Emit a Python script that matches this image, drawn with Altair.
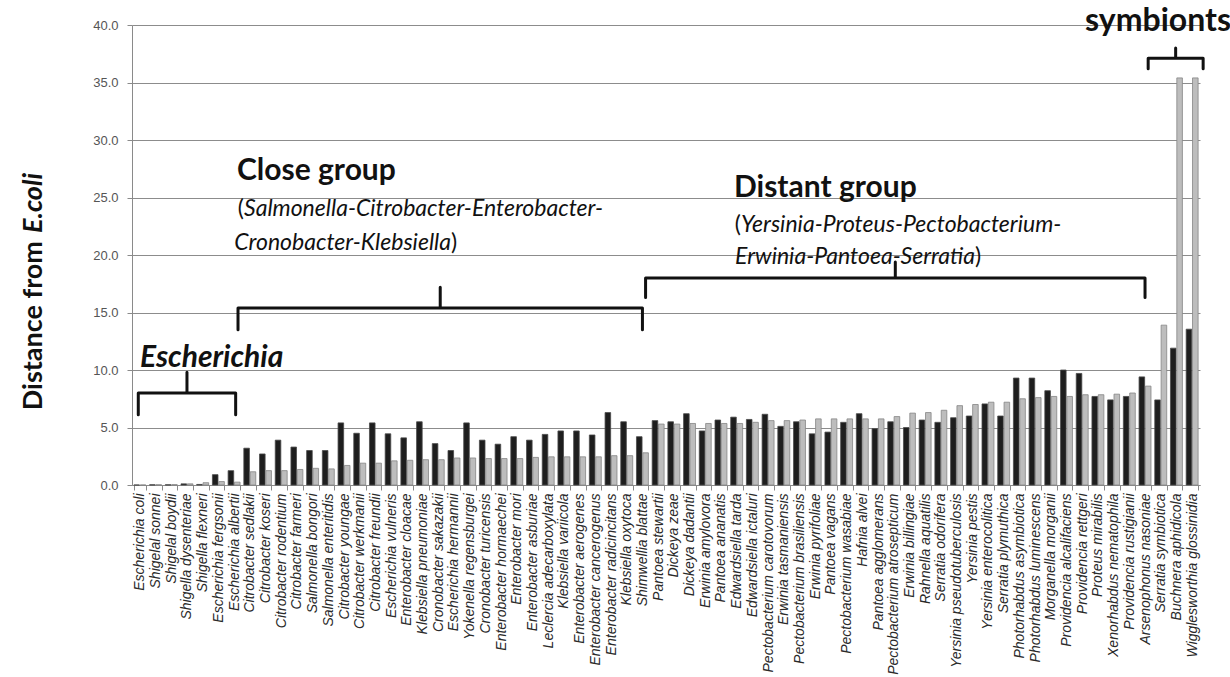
import altair as alt
import pandas as pd

# Species on the x axis, in plotted order
species = [
    "Escherichia coli", "Shigelal sonnei", "Shigelal boydii", "Shigella dysenteriae",
    "Shigella flexneri", "Escherichia fergsonii", "Escherichia albertii",
    "Citrobacter sedlakii", "Citrobacter koseri", "Citrobacter rodentium",
    "Citrobacter farmeri", "Salmonella bongori", "Salmonella enteritidis",
    "Citrobacter youngae", "Citrobacter werkmanii", "Citrobacter freundii",
    "Escherichia vulneris", "Enterobacter cloacae", "Klebsiella pneumoniae",
    "Cronobacter sakazakii", "Escherichia hermannii", "Yokenella regensburgei",
    "Cronobacter turicensis", "Enterobacter hormaechei", "Enterobacter mori",
    "Enterobacter asburiae", "Leclercia adecarboxylata", "Klebsiella variicola",
    "Enterobacter aerogenes", "Enterobacter cancerogenus", "Enterobacter radicincitans",
    "Klebsiella oxytoca", "Shimwellia blattae", "Pantoea stewartii", "Dickeya zeae",
    "Dickeya dadantii", "Erwinia amylovora", "Pantoea ananatis", "Edwardsiella tarda",
    "Edwardsiella ictaluri", "Pectobacterium carotovorum", "Erwinia tasmaniensis",
    "Pectobacterium brasiliensis", "Erwinia pyrifoliae", "Pantoea vagans",
    "Pectobacterium wasabiae", "Hafnia alvei", "Pantoea agglomerans",
    "Pectobacterium atrosepticum", "Erwinia billingiae", "Rahnella aquatilis",
    "Serratia odorifera", "Yersinia pseudotuberculosis", "Yersinia pestis",
    "Yersinia enterocolitica", "Serratia plymuthica", "Photorhabdus asymbiotica",
    "Photorhabdus luminescens", "Morganella morganii", "Providencia alcalifaciens",
    "Providencia rettgeri", "Proteus mirabilis", "Xenorhabdus nematophila",
    "Providencia rustigianii", "Arsenophonus nasoniae", "Serratia symbiotica",
    "Buchnera aphidicola", "Wigglesworthia glossinidia",
]

# Distance from E. coli, first (dark) series
dist_dark = [
    0.0, 0.02, 0.02, 0.1, 0.05, 0.9, 1.25,
    3.2, 2.7, 3.9, 3.3, 3.0, 3.0, 5.4, 4.5, 5.4, 4.45, 4.1, 5.5, 3.6, 3.0,
    5.4, 3.9, 3.55, 4.2, 3.9, 4.4, 4.7, 4.7, 4.35, 6.3, 5.5, 4.2,
    5.6, 5.5, 6.2, 4.7, 5.65, 5.9, 5.7, 6.15, 5.1, 5.5, 4.45, 4.6, 5.45,
    6.2, 4.9, 5.5, 5.0, 5.65, 5.45, 5.85, 6.0, 7.05, 6.0, 9.3, 9.3, 8.2,
    10.0, 9.7, 7.7, 7.4, 7.7, 9.4,
    7.4, 11.9, 13.55,
]

# Distance from E. coli, second (light) series
dist_light = [
    0.0, 0.02, 0.03, 0.1, 0.2, 0.3, 0.25,
    1.15, 1.25, 1.25, 1.35, 1.45, 1.4, 1.7, 1.9, 1.9, 2.1, 2.15, 2.2, 2.2, 2.35,
    2.35, 2.3, 2.3, 2.3, 2.4, 2.45, 2.45, 2.45, 2.45, 2.55, 2.55, 2.8,
    5.3, 5.3, 5.35, 5.35, 5.35, 5.35, 5.45, 5.6, 5.6, 5.65, 5.75, 5.75, 5.75,
    5.75, 5.75, 5.95, 6.25, 6.3, 6.5, 6.9, 7.0, 7.2, 7.2, 7.5, 7.6, 7.7,
    7.7, 7.85, 7.85, 7.9, 8.0, 8.6,
    13.9, 35.4, 35.4,
]

series_names = ["dark", "light"]
y_ticks = [0, 5, 10, 15, 20, 25, 30, 35, 40]

# Groups marked by braces: (first species, last species)
group_spans = [
    ("Escherichia coli", "Escherichia albertii"),
    ("Citrobacter sedlakii", "Shimwellia blattae"),
    ("Pantoea stewartii", "Arsenophonus nasoniae"),
    ("Serratia symbiotica", "Wigglesworthia glossinidia"),
]

# ---------------------------------------------------------------- layout
W, H = 1068, 460
N = len(species)
FONT = "Lato"
y_scale = alt.Scale(domain=[0, 40], nice=False)

bars_df = pd.DataFrame(
    [(s, series_names[0], v) for s, v in zip(species, dist_dark)]
    + [(s, series_names[1], v) for s, v in zip(species, dist_light)],
    columns=["species", "series", "value"],
)

bars = alt.Chart(bars_df).mark_bar(strokeWidth=0.8).encode(
    x=alt.X(
        "species:N",
        sort=species,
        scale=alt.Scale(paddingInner=0.24, paddingOuter=0.12),
        axis=alt.Axis(
            title=None, labelAngle=-90, labelFont="Liberation Sans",
            labelFontStyle="italic", labelFontSize=14, labelColor="#2a2a2a",
            labelLimit=400, labelPadding=3, tickBand="extent", tickSize=5,
            tickColor="#8a8a8a", domainColor="#8a8a8a",
        ),
    ),
    xOffset=alt.XOffset("series:N", sort=series_names,
                        scale=alt.Scale(paddingInner=0.12)),
    y=alt.Y(
        "value:Q",
        scale=y_scale,
        axis=alt.Axis(
            title=None, values=y_ticks, format=".1f", labelFont="Liberation Sans",
            labelFontSize=13, labelColor="#555555", labelPadding=9, tickSize=5,
            tickColor="#8a8a8a", domainColor="#8a8a8a", gridColor="#8c8c8c",
            gridWidth=1,
        ),
    ),
    color=alt.Color("series:N", sort=series_names, legend=None,
                    scale=alt.Scale(domain=series_names, range=["#1e1e1e", "#bdbdbd"])),
    stroke=alt.Stroke("series:N", sort=series_names, legend=None,
                      scale=alt.Scale(domain=series_names, range=["#4a4a4a", "#858585"])),
)

# ---------------------------------------------------------------- braces
# (end level, bar level, tip level) in axis units for each brace
brace_levels = [
    (6.1, 8.0, 9.8),
    (13.5, 15.4, 17.2),
    (16.3, 18.0, 19.4),
    (36.2, 37.1, 38.0),
]
# how far each brace starts / ends from its group's band edges, in bands
brace_trim = [
    (0.4, -0.4),
    (-0.25, -0.5),
    (-0.3, -0.5),
    (-0.3, 0.2),
]
rows = []
for k, ((first, last), (ye, yh, yp), (t0, t1)) in enumerate(
    zip(group_spans, brace_levels, brace_trim)
):
    a = species.index(first) + t0
    b = species.index(last) + 1 + t1
    m = (a + b) / 2
    pts = [(a, ye), (a, yh), (m, yh), (m, yp), (m, yh), (b, yh), (b, ye)]
    for j, (px, py) in enumerate(pts):
        rows.append({"brace": k, "ord": j, "pos": px, "value": py})
brace_df = pd.DataFrame(rows)

braces = alt.Chart(brace_df).mark_line(
    color="#111111", strokeWidth=3, strokeJoin="round", strokeCap="round"
).encode(
    x=alt.X("pos:Q", scale=alt.Scale(domain=[0, N]), axis=None),
    y=alt.Y("value:Q", scale=y_scale, title=None),
    detail="brace:N",
    order="ord:Q",
)

# ---------------------------------------------------------------- text
one = pd.DataFrame({"k": [0]})


def label(text, x, y, size, weight="normal", style="normal", align="left",
          angle=0, dx=0, baseline="alphabetic", color="#111111"):
    kw = dict(font=FONT, fontSize=size, fontWeight=weight, fontStyle=style,
              align=align, baseline=baseline, color=color, dx=dx)
    if angle:
        kw["angle"] = angle
    return alt.Chart(one).mark_text(**kw).encode(
        x=alt.value(x), y=alt.value(y), text=alt.value(text)
    )


SUB = 23
texts = [
    # y-axis title
    label("Distance from", -98, 212, 27, weight="bold", align="right",
          angle=270, dx=-4, baseline="middle"),
    label("E.coli", -98, 212, 27, weight="bold", style="italic", align="left",
          angle=270, dx=4, baseline="middle"),
    # Escherichia
    label("Escherichia", 8, 342, 30, weight="bold", style="italic"),
    # Close group
    label("Close group", 105, 155, 30, weight="bold"),
    label("(", 112, 191, SUB, align="right"),
    label("Salmonella-Citrobacter-Enterobacter-", 112, 191, SUB, style="italic"),
    label("Cronobacter-Klebsiella", 319, 225, SUB, style="italic", align="right"),
    label(")", 319, 225, SUB),
    # Distant group
    label("Distant group", 602, 172, 30, weight="bold"),
    label("(", 609, 207, SUB, align="right"),
    label("Yersinia-Proteus-Pectobacterium-", 609, 207, SUB, style="italic"),
    label("Erwinia-Pantoea-Serratia", 843, 239, SUB, style="italic", align="right"),
    label(")", 843, 239, SUB),
    # symbionts
    label("symbionts", 1026, 6, 32, weight="bold", align="center"),
]

chart = alt.layer(bars, braces, *texts).resolve_scale(
    x="independent", y="shared", color="independent", stroke="independent"
).properties(
    width=W,
    height=H,
    autosize=alt.AutoSizeParams(type="none"),
    padding={"left": 132, "top": 25, "right": 30, "bottom": 192},
    background="white",
).configure_view(stroke=None)

chart.save("out.html", embed_options={"renderer": "svg", "actions": False})
